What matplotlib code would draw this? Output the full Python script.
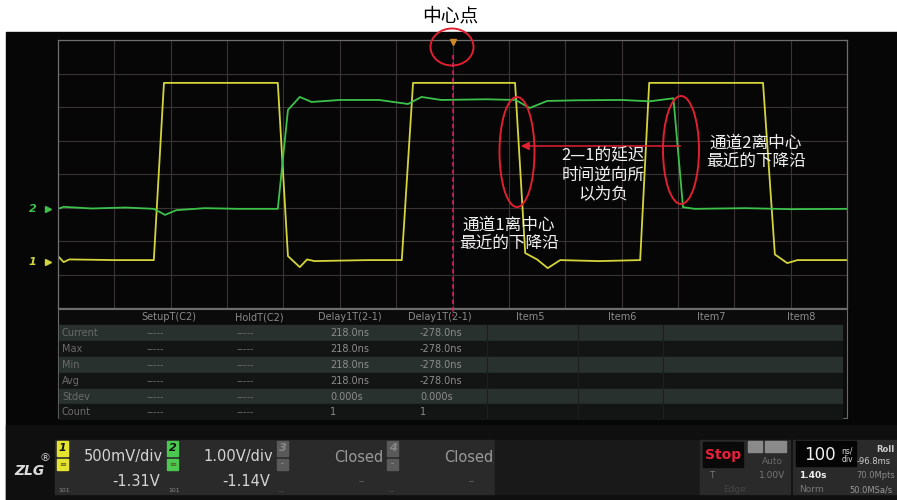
import numpy as np
import matplotlib.pyplot as plt
from matplotlib.patches import Rectangle, Ellipse

plt.rcParams['font.family'] = ['DejaVu Sans']
CJK = ['Noto Sans CJK SC', 'DejaVu Sans']

# channel 1 (yellow) -- time in ns, level in divisions
ch1_t = [-700, -690, -680, -600, -530, -512, -310, -292, -271, -258, -245, -150, -90, -70,
         111, 129, 150, 169, 191, 260, 333, 349, 551, 572, 594, 612, 700]
ch1_v = [-2.45, -2.63, -2.55, -2.57, -2.57, 2.72, 2.72, -2.45, -2.78, -2.55, -2.60, -2.57, -2.57, 2.72,
         2.72, -2.36, -2.55, -2.81, -2.57, -2.60, -2.57, 2.72, 2.72, -2.40, -2.66, -2.57, -2.57]

# channel 2 (green)
ch2_t = [-700, -690, -640, -580, -530, -510, -490, -440, -380, -310, -292, -271, -250, -200,
         -130, -79, -55, -20, 60, 112, 137, 168, 220, 300, 350, 392, 409, 430, 520, 600, 700]
ch2_v = [-1.04, -0.98, -1.03, -1.00, -1.04, -1.22, -1.08, -1.02, -1.04, -1.04, 1.91, 2.30, 2.15, 2.21,
         2.21, 2.09, 2.30, 2.21, 2.23, 2.21, 1.97, 2.18, 2.20, 2.21, 2.17, 2.26, -0.99, -1.04, -1.02, -1.05, -1.04]

# measurement table
col_names = ['SetupT(C2)', 'HoldT(C2)', 'Delay1T(2-1)', 'Delay1T(2-1)', 'Item5', 'Item6', 'Item7', 'Item8']
row_names = ['Current', 'Max', 'Min', 'Avg', 'Stdev', 'Count']
setup_vals = ['-----', '-----', '-----', '-----', '-----', '-----']
hold_vals = ['-----', '-----', '-----', '-----', '-----', '-----']
delay_a = ['218.0ns', '218.0ns', '218.0ns', '218.0ns', '0.000s', '1']
delay_b = ['-278.0ns', '-278.0ns', '-278.0ns', '-278.0ns', '0.000s', '1']

# channel status bar
ch_num = ['1', '2', '3', '4']
ch_scale = ['500mV/div', '1.00V/div', 'Closed', 'Closed']
ch_offset = ['-1.31V', '-1.14V', '--', '--']
ch_color = ['#e4e430', '#4cc850', '#5a5a5a', '#5a5a5a']

fig = plt.figure(figsize=(8.97, 5), dpi=100)
fig.patch.set_facecolor('white')

# background layer in pixel coordinates
bg = fig.add_axes([0, 0, 1, 1], zorder=0)
bg.set_xlim(0, 897)
bg.set_ylim(500, 0)
bg.axis('off')
bg.add_patch(Rectangle((6, 32), 891, 468, color='#060606'))

# measurement table
bg.add_patch(Rectangle((58, 309), 789, 109, facecolor='#0b0b0b', edgecolor='#6a6a6a', lw=0.8))
row_y = [333, 349, 365, 381, 397, 412]
for i, y in enumerate(row_y):
    bg.add_patch(Rectangle((59, y - 8), 783, 15, color='#29312e' if i % 2 == 0 else '#131514'))
for x in [487, 578, 663]:
    bg.plot([x, x], [325, 418], color='#1e1e1e', lw=0.8)
col_x = [169, 259, 350, 440, 530, 622, 711, 801]
for x, name in zip(col_x, col_names):
    bg.text(x, 317, name, color='#8c8c8c', fontsize=7, ha='center', va='center')
for i, y in enumerate(row_y):
    bg.text(62, y, row_names[i], color='#6a6a6a', fontsize=7, ha='left', va='center')
    bg.text(147, y, setup_vals[i], color='#6a6a6a', fontsize=7, ha='left', va='center')
    bg.text(237, y, hold_vals[i], color='#6a6a6a', fontsize=7, ha='left', va='center')
    bg.text(330, y, delay_a[i], color='#8c8c8c', fontsize=7, ha='left', va='center')
    bg.text(420, y, delay_b[i], color='#8c8c8c', fontsize=7, ha='left', va='center')

# status bar
bg.add_patch(Rectangle((6, 425), 891, 75, color='#0f0f0f'))
panel_x = [55, 165, 275, 385]
for i, x in enumerate(panel_x):
    bg.add_patch(Rectangle((x, 440), 109, 54, color='#2a2a2a'))
    bg.add_patch(Rectangle((x + 2, 441), 11, 15, color=ch_color[i]))
    bg.text(x + 7.5, 448, ch_num[i], color='#111111' if i < 2 else '#888888',
            fontsize=8, fontweight='bold', style='italic', ha='center', va='center')
    bg.add_patch(Rectangle((x + 2, 459), 11, 11, color=ch_color[i]))
    bg.text(x + 7.5, 464, '\u2261' if i < 2 else '-', color='#555522' if i < 2 else '#999999',
            fontsize=6, ha='center', va='center')
    bg.text(x + 3, 490, '101' if i < 2 else '...', color='#888888', fontsize=4.5, ha='left', va='center')
    bg.text(x + 108, 457, ch_scale[i], color='#d4d4d4' if i < 2 else '#9a9a9a',
            fontsize=10.5, ha='right', va='center')
    bg.text(x + 105 if i < 2 else x + 90, 482, ch_offset[i], color='#d4d4d4' if i < 2 else '#777777',
            fontsize=10.5 if i < 2 else 6, ha='right', va='center')
bg.add_patch(Rectangle((495, 440), 205, 54, color='#191919'))

bg.text(29, 471, 'ZLG', color='#dddddd', fontsize=10, fontweight='bold', style='italic',
        ha='center', va='center')
bg.text(45, 458, '\u00ae', color='#cccccc', fontsize=8, ha='center', va='center')

# trigger panel
bg.add_patch(Rectangle((700, 440), 90, 54, color='#2a2a2a'))
bg.add_patch(Rectangle((703, 442), 40, 25, color='#090909'))
bg.text(723, 455, 'Stop', color='#e8203c', fontsize=10, fontweight='bold', ha='center', va='center')
bg.add_patch(Rectangle((748, 441), 14, 11, color='#8a8a8a'))
bg.add_patch(Rectangle((765, 441), 21, 11, color='#8a8a8a'))
bg.text(772, 462, 'Auto', color='#6a6a6a', fontsize=6.5, ha='center', va='center')
bg.text(709, 476, 'T', color='#777777', fontsize=6.5, ha='left', va='center')
bg.text(772, 476, '1.00V', color='#777777', fontsize=6.5, ha='center', va='center')
bg.text(735, 490, 'Edge', color='#444444', fontsize=6.5, ha='center', va='center')

# timebase panel
bg.add_patch(Rectangle((793, 440), 104, 54, color='#2a2a2a'))
bg.add_patch(Rectangle((796, 441), 60, 25, color='#050505'))
bg.text(820, 455, '100', color='#f0f0f0', fontsize=12, ha='center', va='center')
bg.text(847, 455, 'ns/\ndiv', color='#dddddd', fontsize=5.5, ha='center', va='center', linespacing=0.9)
bg.text(876, 449, 'Roll', color='#cccccc', fontsize=6, fontweight='bold', ha='left', va='center')
bg.text(857, 462, '-96.8ms', color='#cccccc', fontsize=6, ha='left', va='center')
bg.text(799, 476, '1.40s', color='#f0f0f0', fontsize=6.5, fontweight='bold', ha='left', va='center')
bg.text(856, 476, '70.0Mpts', color='#888888', fontsize=6, ha='left', va='center')
bg.text(799, 490, 'Norm', color='#777777', fontsize=6.5, ha='left', va='center')
bg.text(849, 490, '50.0MSa/s', color='#999999', fontsize=6, ha='left', va='center')

# scope graticule
ax = fig.add_axes([58 / 897, 192 / 500, 789 / 897, 268 / 500], zorder=1)
ax.set_facecolor('none')
ax.set_xlim(-700, 700)
ax.set_ylim(-4, 4)
ax.set_xticks(np.arange(-700, 701, 100))
ax.set_yticks(np.arange(-4, 5, 1))
ax.tick_params(length=0, labelbottom=False, labelleft=False)
ax.grid(True, color='#3a3434', lw=0.8)
for s in ax.spines.values():
    s.set_color('#6e6e6e')
    s.set_linewidth(0.9)

ax.plot(ch1_t, ch1_v, color='#d4d43c', lw=1.3)
ax.plot(ch2_t, ch2_v, color='#3cc24a', lw=1.3)

# channel ground markers
ax.text(-745, -1.04, '2', color='#3cc24a', fontsize=8, fontweight='bold', style='italic',
        ha='center', va='center', clip_on=False)
ax.plot([-718], [-1.04], marker='>', color='#3cc24a', ms=4, clip_on=False)
ax.text(-745, -2.63, '1', color='#d4d43c', fontsize=8, fontweight='bold', style='italic',
        ha='center', va='center', clip_on=False)
ax.plot([-718], [-2.63], marker='>', color='#d4d43c', ms=4, clip_on=False)

# annotation layer in pixel coordinates
top = fig.add_axes([0, 0, 1, 1], zorder=2)
top.set_facecolor('none')
top.set_xlim(0, 897)
top.set_ylim(500, 0)
top.axis('off')

top.text(450, 16, '中心点', family=CJK, fontsize=13.5, color='black', ha='center', va='center')
top.plot([452.5], [42], marker='v', color='#d08a2a', ms=4)
top.plot([452.5, 452.5], [55, 316], color='#e0206a', lw=1.1, ls=(0, (3, 2)))
top.add_patch(Ellipse((452, 47), 43, 37, fill=False, edgecolor='#e02030', lw=1.4))
top.add_patch(Ellipse((517, 152), 35, 110, fill=False, edgecolor='#e02030', lw=1.4))
top.add_patch(Ellipse((681, 150), 36, 108, fill=False, edgecolor='#e02030', lw=1.4))
top.annotate('', xy=(518, 146), xytext=(683, 146),
             arrowprops=dict(arrowstyle='-|>', color='#e02030', lw=1.1, mutation_scale=12))

top.text(603, 175, '2—1的延迟\n时间逆向所\n以为负', family=CJK, fontsize=12, color='#f0f0f0',
         ha='center', va='center', linespacing=1.15)
top.text(756, 153, '通道2离中心\n最近的下降沿', family=CJK, fontsize=12, color='#f0f0f0',
         ha='center', va='center', linespacing=1.15)
top.text(509, 235, '通道1离中心\n最近的下降沿', family=CJK, fontsize=12, color='#f0f0f0',
         ha='center', va='center', linespacing=1.15)

plt.savefig('out.png', dpi=100)
